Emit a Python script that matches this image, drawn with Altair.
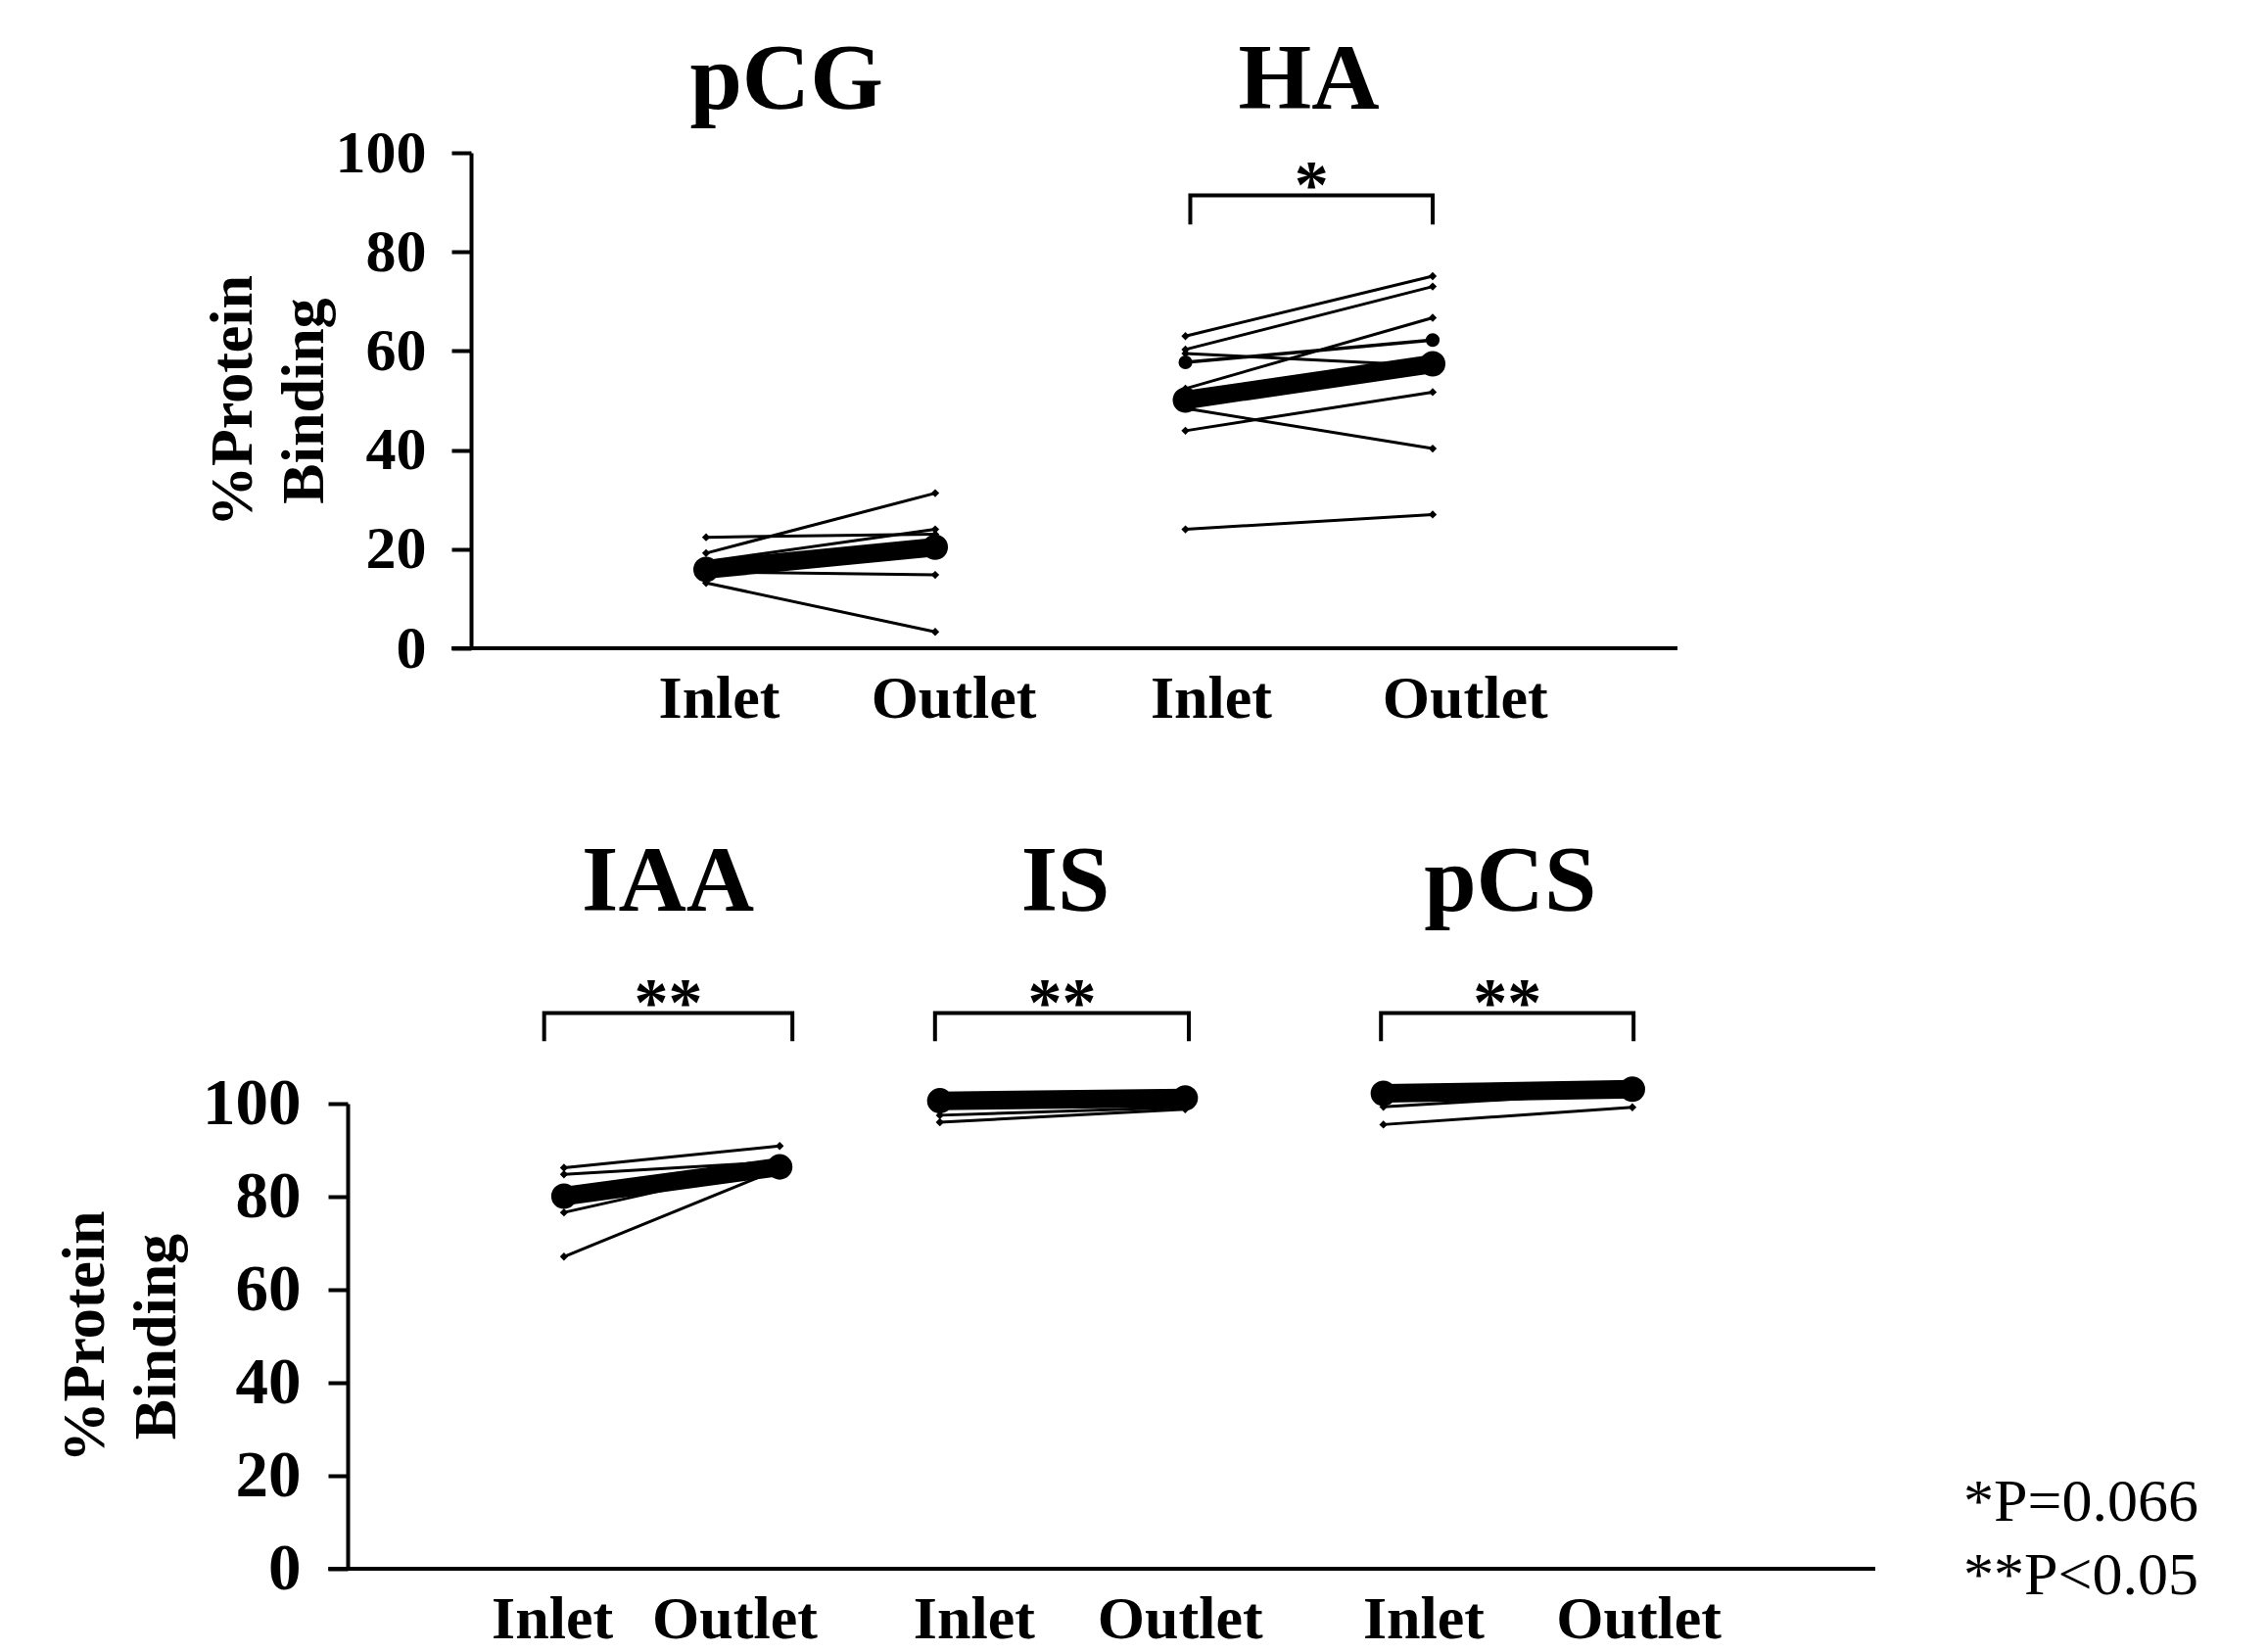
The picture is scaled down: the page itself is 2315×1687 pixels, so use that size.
import altair as alt
import pandas as pd

# ---------------- data ----------------
stages = ["Inlet", "Outlet"]

pcg_inlet = [22.4, 19.2, 17.5, 16.5, 15.4, 13.2]
pcg_outlet = [23.0, 31.3, 24.0, 21.0, 14.8, 3.3]
pcg_mean = [15.9, 20.4]

ha_inlet = [63.0, 60.3, 59.5, 52.4, 48.4, 43.9, 24.0]
ha_outlet = [75.1, 73.0, 57.0, 66.7, 40.3, 51.7, 27.0]
ha_big = [57.7, 62.2]
ha_mean = [50.1, 57.4]

iaa_inlet = [86.2, 84.8, 76.6, 67.1]
iaa_outlet = [90.9, 87.5, 87.0, 86.0]
iaa_mean = [80.1, 86.4]

is_inlet = [97.5, 96.0]
is_outlet = [99.2, 98.8]
is_mean = [100.6, 101.2]

pcs_inlet = [99.3, 95.5]
pcs_outlet = [102.5, 99.2]
pcs_mean = [102.2, 103.1]

titles_top = ["pCG", "HA"]
titles_bottom = ["IAA", "IS", "pCS"]
sig_top = {"HA": "*"}
sig_bottom = {"IAA": "**", "IS": "**", "pCS": "**"}
footnotes = ["*P=0.066", "**P<0.05"]
y_ticks = [0, 20, 40, 60, 80, 100]
y_title = ["%Protein", "Binding"]

# ---------------- layout (slot positions on the x scale) ----------------
TOP_DOMAIN = [0, 11]
BOT_DOMAIN = [0, 12.64]
TOP_X = {"pCG": (2.965, 4.86), "HA": (6.93, 8.975)}
BOT_X = {"IAA": (1.79, 3.575), "IS": (4.90, 6.93), "pCS": (8.57, 10.63)}
TOP_LABEL_X = [3.07, 5.01, 7.14, 9.24]
BOT_LABEL_X = [1.69, 3.20, 5.18, 6.885, 8.90, 10.68]
TOP_TITLE_X = {"pCG": 3.63, "HA": 7.95}
BOT_TITLE_X = {"IAA": 2.65, "IS": 5.94, "pCS": 9.62}
TOP_BRACKET = {"HA": (6.97, 8.975)}
BOT_BRACKET = {"IAA": (1.626, 3.68), "IS": (4.86, 6.96), "pCS": (8.55, 10.64)}
TOP_BASE = (0.86, 11.0)
BOT_BASE = (-0.16, 12.64)

FONT = "Liberation Serif"


def pairs(comp, xs, inlet, outlet, kind):
    rows = []
    for i, (a, b) in enumerate(zip(inlet, outlet)):
        sid = f"{comp}-{kind}-{i}"
        rows.append(dict(comp=comp, sid=sid, kind=kind, stage=stages[0], x=xs[0], v=a))
        rows.append(dict(comp=comp, sid=sid, kind=kind, stage=stages[1], x=xs[1], v=b))
    return rows


top_rows = []
top_rows += pairs("pCG", TOP_X["pCG"], pcg_inlet, pcg_outlet, "thin")
top_rows += pairs("pCG", TOP_X["pCG"], [pcg_mean[0]], [pcg_mean[1]], "mean")
top_rows += pairs("HA", TOP_X["HA"], ha_inlet, ha_outlet, "thin")
top_rows += pairs("HA", TOP_X["HA"], [ha_big[0]], [ha_big[1]], "big")
top_rows += pairs("HA", TOP_X["HA"], [ha_mean[0]], [ha_mean[1]], "mean")
top_df = pd.DataFrame(top_rows)

bot_rows = []
bot_rows += pairs("IAA", BOT_X["IAA"], iaa_inlet, iaa_outlet, "thin")
bot_rows += pairs("IAA", BOT_X["IAA"], [iaa_mean[0]], [iaa_mean[1]], "mean")
bot_rows += pairs("IS", BOT_X["IS"], is_inlet, is_outlet, "thin")
bot_rows += pairs("IS", BOT_X["IS"], [is_mean[0]], [is_mean[1]], "mean")
bot_rows += pairs("pCS", BOT_X["pCS"], pcs_inlet, pcs_outlet, "thin")
bot_rows += pairs("pCS", BOT_X["pCS"], [pcs_mean[0]], [pcs_mean[1]], "mean")
bot_df = pd.DataFrame(bot_rows)


def label_expr(positions):
    expr = "''"
    for i, p in reversed(list(enumerate(positions))):
        expr = f"datum.value == {p} ? '{stages[i % 2]}' : ({expr})"
    return expr


def make_panel(df, domain, width, height, label_x, titles_x, brackets, sigs,
               bracket_top, bracket_leg, sig_y, title_y, base, y_offset,
               ylab_size, ylab_pad, ytitle_pad, foot=None):
    X = alt.X("x:Q", scale=alt.Scale(domain=domain, nice=False, zero=False),
              axis=alt.Axis(values=label_x, labelExpr=label_expr(label_x),
                            domain=False, ticks=False, grid=False, title=None,
                            labelFont=FONT, labelFontSize=62, labelFontWeight="bold",
                            labelColor="black", labelPadding=21, labelFlush=False,
                            labelOverlap=False, labelBound=False))
    Y = alt.Y("v:Q", scale=alt.Scale(domain=[0, 100], nice=False, zero=False),
              axis=alt.Axis(values=y_ticks, grid=False, title=y_title,
                            domainColor="black", domainWidth=4, tickColor="black",
                            tickWidth=4, tickSize=20, labelPadding=ylab_pad,
                            labelFont=FONT, labelFontSize=ylab_size, labelFontWeight="bold",
                            labelColor="black", labelFlush=False, labelOverlap=False,
                            titleFont=FONT, titleFontSize=62, titleFontWeight="bold",
                            titleColor="black", titlePadding=ytitle_pad,
                            titleLineHeight=73, offset=y_offset))

    thin = df[df.kind == "thin"]
    big = df[df.kind == "big"]
    mean = df[df.kind == "mean"]

    layers = []
    layers.append(alt.Chart(thin).mark_line(color="black", strokeWidth=3)
                  .encode(x=X, y=Y, detail="sid:N"))
    layers.append(alt.Chart(thin).mark_point(shape="diamond", filled=True, size=70,
                                             color="black", opacity=1)
                  .encode(x=X, y=Y))
    if len(big):
        layers.append(alt.Chart(big).mark_line(color="black", strokeWidth=3.5)
                      .encode(x=X, y=Y, detail="sid:N"))
        layers.append(alt.Chart(big).mark_point(shape="circle", filled=True, size=200,
                                                color="black", opacity=1)
                      .encode(x=X, y=Y))
    layers.append(alt.Chart(mean).mark_line(color="black", strokeWidth=19)
                  .encode(x=X, y=Y, detail="sid:N"))
    layers.append(alt.Chart(mean).mark_point(shape="circle", filled=True, size=680,
                                             color="black", opacity=1)
                  .encode(x=X, y=Y))

    # significance brackets
    br_rows = []
    for comp, (x0, x1) in brackets.items():
        br_rows += [dict(comp=comp, o=0, x=x0, v=bracket_leg),
                    dict(comp=comp, o=1, x=x0, v=bracket_top),
                    dict(comp=comp, o=2, x=x1, v=bracket_top),
                    dict(comp=comp, o=3, x=x1, v=bracket_leg)]
    layers.append(alt.Chart(pd.DataFrame(br_rows))
                  .mark_line(color="black", strokeWidth=4, strokeJoin="miter")
                  .encode(x=X, y=Y, detail="comp:N", order="o:Q"))
    sig_rows = [dict(x=(brackets[c][0] + brackets[c][1]) / 2, v=sig_y, t=s)
                for c, s in sigs.items()]
    layers.append(alt.Chart(pd.DataFrame(sig_rows))
                  .mark_text(font=FONT, fontSize=70, fontWeight="bold", color="black",
                             align="center", baseline="alphabetic")
                  .encode(x=X, y=Y, text="t:N"))

    # compound titles
    t_rows = [dict(x=xp, v=title_y, t=c) for c, xp in titles_x.items()]
    layers.append(alt.Chart(pd.DataFrame(t_rows))
                  .mark_text(font=FONT, fontSize=96, fontWeight="bold", color="black",
                             align="center", baseline="alphabetic")
                  .encode(x=X, y=Y, text="t:N"))

    # baseline (x axis line)
    layers.append(alt.Chart(pd.DataFrame([dict(x=base[0], x2=base[1], v=0)]))
                  .mark_rule(color="black", strokeWidth=4)
                  .encode(x=X, x2="x2:Q", y=Y))

    if foot is not None:
        f_rows = [dict(x=foot[0], v=foot[1][i], t=s) for i, s in enumerate(footnotes)]
        layers.append(alt.Chart(pd.DataFrame(f_rows))
                      .mark_text(font=FONT, fontSize=62, color="black", align="left",
                                 baseline="alphabetic")
                      .encode(x=X, y=Y, text="t:N"))

    return alt.layer(*layers).properties(width=width, height=height)


top = make_panel(top_df, TOP_DOMAIN, 1358, 506, TOP_LABEL_X, TOP_TITLE_X,
                 TOP_BRACKET, sig_top, 91.4, 85.5, 89.0, 108.8, TOP_BASE, -126,
                 ylab_size=62, ylab_pad=26, ytitle_pad=0)
bottom = make_panel(bot_df, BOT_DOMAIN, 1560, 475, BOT_LABEL_X, BOT_TITLE_X,
                    BOT_BRACKET, sig_bottom, 119.5, 113.4, 116.8, 141.5, BOT_BASE, 0,
                    ylab_size=67, ylab_pad=28, ytitle_pad=15,
                    foot=(13.37, [10.3, -5.4]))

chart = alt.vconcat(top, bottom, spacing=465, bounds="flush").properties(
    padding={"left": 47, "top": 26, "right": 10, "bottom": 10}
).configure_view(strokeWidth=0)

chart.save("out.html", embed_options={"renderer": "svg", "actions": False})
